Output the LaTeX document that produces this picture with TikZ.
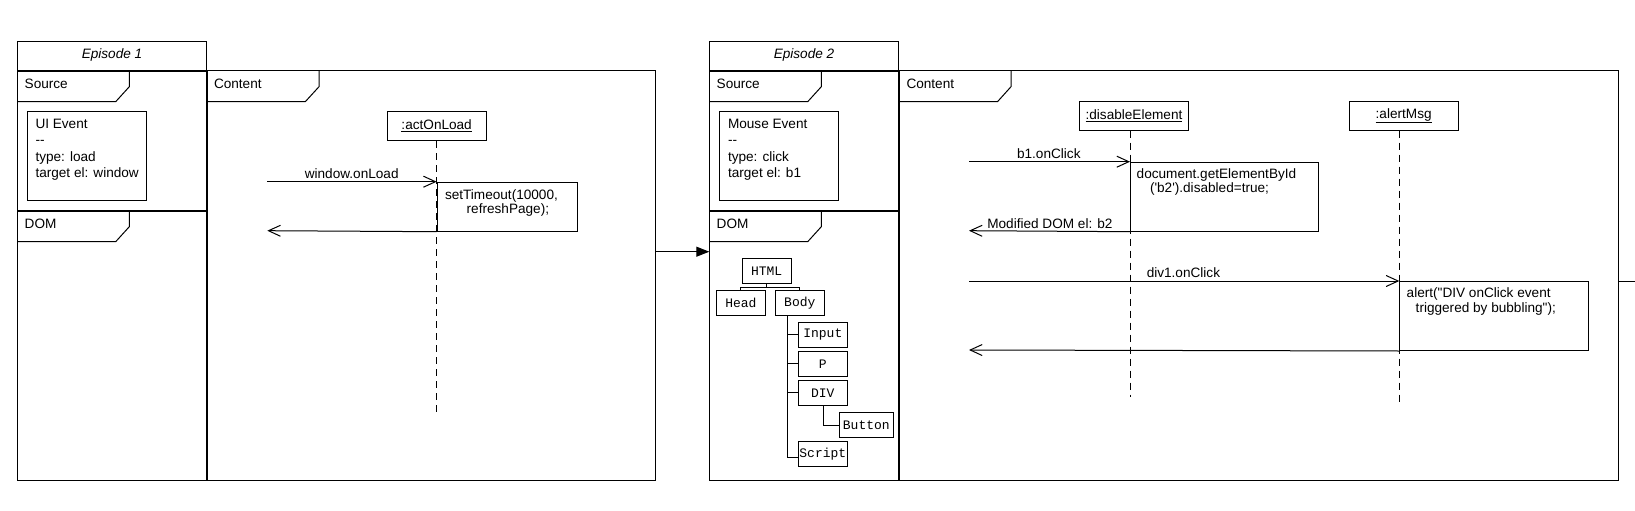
\documentclass[tikz,border=0pt]{standalone}
\usepackage{fontspec}
\setmainfont{Liberation Sans}[Ligatures=TeXOff]
\newfontfamily\treefont{Liberation Mono}
\usetikzlibrary{arrows.meta}
\tikzset{
  thinline/.style={line width=1pt},
  thickline/.style={line width=2pt},
  lbl/.style={font=\fontsize{13.6}{16}\selectfont, inner sep=0pt, outer sep=0pt},
  ttl/.style={font=\fontsize{13.6}{16}\selectfont\itshape, inner sep=0pt, outer sep=0pt},
  objbox/.style={draw, line width=1pt, inner sep=0pt, font=\fontsize{13.6}{16}\selectfont},
  evbox/.style={draw, line width=1pt, inner sep=0pt, minimum width=119.4pt, minimum height=89.3pt},
  actbox/.style={draw, line width=1pt, inner sep=0pt, anchor=north west},
  treebox/.style={draw, line width=1pt, inner sep=0pt, minimum height=25pt, font=\treefont\fontsize{13}{15}\selectfont},
  lifeline/.style={line width=1pt, dash pattern=on 7pt off 5pt},
  msg/.style={line width=1pt, -{Straight Barb[length=12pt,width=11pt,line width=1pt]}},
  link/.style={line width=1pt},
}
\begin{document}
\begin{tikzpicture}[x=1pt,y=-1pt]
\useasboundingbox (0,0) rectangle (1635,511);

% ===================== Episode 1 frame =====================
\draw[thinline] (17.3,71) -- (17.3,41.7) -- (206.7,41.7) -- (206.7,71);
\draw[thinline] (17.3,71) -- (17.3,480) -- (206.7,480);
\draw[thinline] (206.7,71) -- (655.9,71) -- (655.9,480) -- (206.7,480);
\draw[thickline] (17.3,71) -- (206.7,71);
\draw[thickline] (206.7,71) -- (206.7,480);
\draw[thickline] (17.3,211) -- (206.7,211);
% tabs
\draw[thinline] (17.3,101.7) -- (115.7,101.7) -- (129.3,86.7) -- (129.3,71);
\draw[thinline] (17.3,241.7) -- (115.7,241.7) -- (129.3,226.7) -- (129.3,211);
\draw[thinline] (206.7,101.7) -- (305.3,101.7) -- (319,86.7) -- (319,71);
\node[ttl, anchor=base] (ep1title) at (112,58.8) {Episode 1};
\node[lbl, anchor=base west] (ep1source) at (24.7,88.3) {Source};
\node[lbl, anchor=base west] (ep1dom) at (24.7,228.1) {DOM};
\node[lbl, anchor=base west] (ep1content) at (214,88.3) {Content};

% event box
\node[evbox] (ev1) at (87,155.65) {};
\node[lbl, anchor=base west] (ev1a) at (35.5,128) {UI Event};
\node[lbl, anchor=base west] (ev1b) at (35.5,144.5) {-{}-};
\node[lbl, anchor=base west] (ev1c) at (35.5,161) {type: load};
\node[lbl, anchor=base west] (ev1d) at (35.5,177.5) {target el: window};

% sequence 1
\node[objbox, minimum width=98.7pt, minimum height=29.7pt] (actOnLoad) at (436.65,125.85) {\underline{:actOnLoad}};
\coordinate (ll1end) at (436.65,411.9);
\draw[lifeline] (actOnLoad.south) -- (ll1end);
\node[actbox, minimum width=140pt, minimum height=49pt] (act1) at (436.65,181.7) {};
\node[lbl, anchor=base west] (act1a) at (445,199) {setTimeout(10000,};
\node[lbl, anchor=base west] (act1b) at (466.7,213.5) {refreshPage);};
\coordinate (call1start) at (267.3,181.7);
\coordinate (ret1end) at (267.3,230.7);
\draw[msg] (call1start) -- (act1.north west);
\draw[msg] (act1.south west) -- (ret1end);
\node[lbl, anchor=base] (call1lbl) at (351.7,178.3) {window.onLoad};

% ===================== connector between episodes =====================
\coordinate (c1right) at (655.9,251.7);
\coordinate (ep2left) at (709.3,251.7);
\draw[line width=1pt, -{Triangle[length=13pt,width=10pt]}] (c1right) -- (ep2left);

% ===================== Episode 2 frame =====================
\draw[thinline] (709.3,71) -- (709.3,41.7) -- (898.7,41.7) -- (898.7,71);
\draw[thinline] (709.3,71) -- (709.3,480) -- (898.7,480);
\draw[thinline] (898.7,71) -- (1618.3,71) -- (1618.3,480) -- (898.7,480);
\draw[thickline] (709.3,71) -- (898.7,71);
\draw[thickline] (898.7,71) -- (898.7,480);
\draw[thickline] (709.3,211) -- (898.7,211);
% tabs
\draw[thinline] (709.3,101.7) -- (807.7,101.7) -- (821.3,86.7) -- (821.3,71);
\draw[thinline] (709.3,241.7) -- (807.7,241.7) -- (821.3,226.7) -- (821.3,211);
\draw[thinline] (898.7,101.7) -- (997.5,101.7) -- (1011,86.7) -- (1011,71);
\node[ttl, anchor=base] (ep2title) at (804,58.8) {Episode 2};
\node[lbl, anchor=base west] (ep2source) at (716.7,88.3) {Source};
\node[lbl, anchor=base west] (ep2dom) at (716.7,228.1) {DOM};
\node[lbl, anchor=base west] (ep2content) at (906.5,88.3) {Content};

% event box
\node[evbox] (ev2) at (779,155.65) {};
\node[lbl, anchor=base west] (ev2a) at (728,128) {Mouse Event};
\node[lbl, anchor=base west] (ev2b) at (728,144.5) {-{}-};
\node[lbl, anchor=base west] (ev2c) at (728,161) {type: click};
\node[lbl, anchor=base west] (ev2d) at (728,177.5) {target el: b1};

% DOM tree
\node[treebox, minimum width=48.7pt] (HTML) at (766.65,270.8) {HTML};
\node[treebox, minimum width=49.7pt, minimum height=25.7pt] (Head) at (740.85,302.85) {Head};
\node[treebox, minimum width=49pt, minimum height=25.7pt] (Body) at (799.8,302.85) {Body};
\node[treebox, minimum width=49pt] (Input) at (822.8,334.8) {Input};
\node[treebox, minimum width=49pt] (P) at (822.8,363.8) {P};
\node[treebox, minimum width=49pt] (DIV) at (822.8,392.8) {DIV};
\node[treebox, minimum width=54pt, minimum height=24.6pt] (Button) at (866.3,425) {Button};
\node[treebox, minimum width=49pt, minimum height=25.7pt] (Script) at (822.8,453.85) {Script};
\coordinate (hb) at (766.65,287.3);
\draw[link] (HTML.south) -- (hb);
\draw[link] (Head.north) |- (hb) -| (Body.north);
\coordinate (trunkEnd) at (787.5,457.7);
\draw[link] (Body.south -| trunkEnd) -- (trunkEnd) -- (Script.west |- trunkEnd);
\draw[link] (Input.west) -- (Input.west -| trunkEnd);
\draw[link] (P.west) -- (P.west -| trunkEnd);
\draw[link] (DIV.west) -- (DIV.west -| trunkEnd);
\coordinate (divb) at (823.3,425);
\draw[link] (DIV.south -| divb) -- (divb) -- (Button.west);

% sequence 2
\node[objbox, minimum width=109.4pt, minimum height=28.3pt] (disable) at (1134,115.85) {\underline{:disableElement}};
\node[objbox, minimum width=109.3pt, minimum height=28.3pt] (alertMsg) at (1403.65,115.85) {\underline{:alertMsg}};
\coordinate (ll2end) at (1130,396.7);
\coordinate (ll3end) at (1399.3,401.7);
\draw[lifeline] (disable.south -| ll2end) -- (ll2end);
\draw[lifeline] (alertMsg.south -| ll3end) -- (ll3end);

\node[actbox, minimum width=188.3pt, minimum height=69pt] (act2) at (1130,161.7) {};
\node[lbl, anchor=base west] (act2a) at (1136.7,178.3) {document.getElementById};
\node[lbl, anchor=base west] (act2b) at (1150,192.5) {('b2').disabled=true;};
\coordinate (call2start) at (969,161.7);
\coordinate (ret2end) at (969,230.7);
\draw[msg] (call2start) -- (act2.north west);
\draw[msg] (act2.south west) -- (ret2end);
\node[lbl, anchor=base] (call2lbl) at (1048.8,158.3) {b1.onClick};
\node[lbl, anchor=base] (ret2lbl) at (1049.9,228.3) {Modified DOM el: b2};

\node[actbox, minimum width=189pt, minimum height=69pt] (act3) at (1399.3,281) {};
\node[lbl, anchor=base west] (act3a) at (1406.7,297.5) {alert("DIV onClick event};
\node[lbl, anchor=base west] (act3b) at (1415.7,312.5) {triggered by bubbling");};
\coordinate (call3start) at (969,281);
\coordinate (ret3end) at (969,350);
\draw[msg] (call3start) -- (act3.north west);
\draw[msg] (act3.south west) -- (ret3end);
\node[lbl, anchor=base] (call3lbl) at (1183.4,277.7) {div1.onClick};

% stub toward next episode
\coordinate (c2right) at (1618.3,281);
\coordinate (stubend) at (1635,281);
\draw[line width=1pt] (c2right) -- (stubend);
\end{tikzpicture}
\end{document}
